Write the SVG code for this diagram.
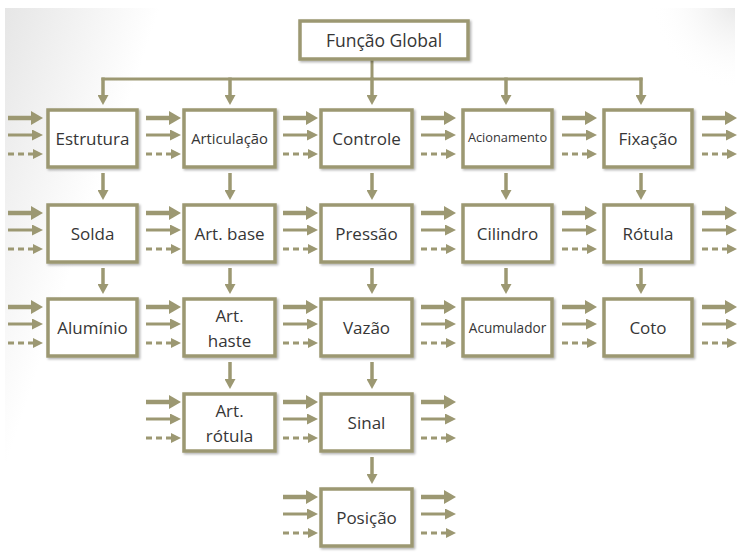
<svg xmlns="http://www.w3.org/2000/svg" xmlns:xlink="http://www.w3.org/1999/xlink" width="740" height="552" viewBox="0 0 740 552">
<style>
.box{fill:#ffffff;stroke:#9c9872;stroke-width:3.5;filter:url(#sh)}
.lbl{font-family:"Open Sans","Noto Sans","Liberation Sans",sans-serif;font-size:17px;fill:#363636;text-anchor:middle}
.c{fill:none;stroke:#9c9872}
.e{stroke-width:4.5;marker-end:url(#hE)}
.m{stroke-width:3;marker-end:url(#hM)}
.s{stroke-width:3;stroke-dasharray:6 4;marker-end:url(#hS)}
.v{stroke-width:3.5;marker-end:url(#hV)}
.t{stroke-width:3}
</style>
<defs>
<linearGradient id="bg" x1="0" y1="0" x2="1" y2="0.25">
<stop offset="0" stop-color="#e6e6e6"/>
<stop offset="0.2" stop-color="#ffffff"/>
<stop offset="1" stop-color="#ffffff"/>
</linearGradient>
<radialGradient id="tr" cx="740" cy="0" r="90" gradientUnits="userSpaceOnUse">
<stop offset="0" stop-color="#e4e4e4"/>
<stop offset="1" stop-color="#ffffff" stop-opacity="0"/>
</radialGradient>
<filter id="sh" x="-10%" y="-10%" width="125%" height="130%">
<feDropShadow dx="1.5" dy="1.5" stdDeviation="1.2" flood-color="#000" flood-opacity="0.3"/>
</filter>
<marker id="hE" markerUnits="userSpaceOnUse" markerWidth="12" markerHeight="14" refX="1" refY="7" orient="auto"><path d="M0,0 L12,7 L0,14 z" fill="#9c9872"/></marker>
<marker id="hM" markerUnits="userSpaceOnUse" markerWidth="11" markerHeight="11" refX="1" refY="5.5" orient="auto"><path d="M0,0 L11,5.5 L0,11 z" fill="#9c9872"/></marker>
<marker id="hS" markerUnits="userSpaceOnUse" markerWidth="10" markerHeight="10" refX="1" refY="5" orient="auto"><path d="M0,0 L10,5 L0,10 z" fill="#9c9872"/></marker>
<marker id="hV" markerUnits="userSpaceOnUse" markerWidth="10" markerHeight="11" refX="1" refY="5.5" orient="auto"><path d="M0,0 L10,5.5 L0,11 z" fill="#9c9872"/></marker>
<g id="trio" class="c">
<path class="e" d="M0,0 H24"/>
<path class="m" d="M0,17 H25"/>
<path class="s" d="M0,36 H26"/>
</g>
</defs>
<rect x="0" y="0" width="740" height="552" fill="#ffffff"/>
<rect x="5" y="8" width="730" height="540" fill="url(#bg)"/>
<rect x="5" y="8" width="730" height="540" fill="url(#tr)"/>

<g id="connectors">
<path class="c t" d="M372,60 V79 M101.5,79 H642.5"/>
<path class="c v" d="M103,77.5 V96"/>
<path class="c v" d="M230,77.5 V96"/>
<path class="c v" d="M372,77.5 V96"/>
<path class="c v" d="M506,77.5 V96"/>
<path class="c v" d="M641,77.5 V96"/>
<path class="c v" d="M103,173 V191"/>
<path class="c v" d="M103,268 V285"/>
<path class="c v" d="M230,173 V191"/>
<path class="c v" d="M230,268 V285"/>
<path class="c v" d="M230,362 V380"/>
<path class="c v" d="M372,173 V191"/>
<path class="c v" d="M372,268 V285"/>
<path class="c v" d="M372,362 V380"/>
<path class="c v" d="M372,457 V475"/>
<path class="c v" d="M506,173 V191"/>
<path class="c v" d="M506,268 V285"/>
<path class="c v" d="M641,173 V191"/>
<path class="c v" d="M641,268 V285"/>
<use href="#trio" x="8" y="118"/>
<use href="#trio" x="146" y="118"/>
<use href="#trio" x="283" y="118"/>
<use href="#trio" x="421" y="118"/>
<use href="#trio" x="562" y="118"/>
<use href="#trio" x="702" y="118"/>
<use href="#trio" x="8" y="213"/>
<use href="#trio" x="146" y="213"/>
<use href="#trio" x="283" y="213"/>
<use href="#trio" x="421" y="213"/>
<use href="#trio" x="562" y="213"/>
<use href="#trio" x="702" y="213"/>
<use href="#trio" x="8" y="307"/>
<use href="#trio" x="146" y="307"/>
<use href="#trio" x="283" y="307"/>
<use href="#trio" x="421" y="307"/>
<use href="#trio" x="562" y="307"/>
<use href="#trio" x="702" y="307"/>
<use href="#trio" x="146" y="402"/>
<use href="#trio" x="283" y="402"/>
<use href="#trio" x="421" y="402"/>
<use href="#trio" x="283" y="497"/>
<use href="#trio" x="421" y="497"/>
</g>

<g id="funcao-global"><rect class="box" x="300" y="21" width="168" height="38"/><text class="lbl" x="384" y="46.5" style="font-size:17.5px">Função Global</text></g>

<g id="estrutura"><rect class="box" x="48" y="110" width="89" height="57"/><text class="lbl" x="92.5" y="144.5">Estrutura</text></g>
<g id="articulacao"><rect class="box" x="184" y="110" width="91" height="57"/><text class="lbl" x="229.5" y="143.5" style="font-size:14.8px">Articulação</text></g>
<g id="controle"><rect class="box" x="321" y="110" width="91" height="57"/><text class="lbl" x="366.5" y="144.5">Controle</text></g>
<g id="acionamento"><rect class="box" x="463" y="110" width="89" height="57"/><text class="lbl" x="507.5" y="141.5" style="font-size:12.8px">Acionamento</text></g>
<g id="fixacao"><rect class="box" x="604" y="110" width="88" height="57"/><text class="lbl" x="648" y="144.5">Fixação</text></g>

<g id="solda"><rect class="box" x="48" y="205" width="89" height="57"/><text class="lbl" x="92.5" y="239.5">Solda</text></g>
<g id="art-base"><rect class="box" x="184" y="205" width="91" height="57"/><text class="lbl" x="229.5" y="239.5">Art. base</text></g>
<g id="pressao"><rect class="box" x="321" y="205" width="91" height="57"/><text class="lbl" x="366.5" y="239.5">Pressão</text></g>
<g id="cilindro"><rect class="box" x="463" y="205" width="89" height="57"/><text class="lbl" x="507.5" y="239.5">Cilindro</text></g>
<g id="rotula"><rect class="box" x="604" y="205" width="88" height="57"/><text class="lbl" x="648" y="239.5">Rótula</text></g>

<g id="aluminio"><rect class="box" x="48" y="299" width="89" height="57"/><text class="lbl" x="92.5" y="333.5">Alumínio</text></g>
<g id="art-haste"><rect class="box" x="184" y="299" width="91" height="57"/><text class="lbl" x="229.5" y="322">Art.</text><text class="lbl" x="229.5" y="347">haste</text></g>
<g id="vazao"><rect class="box" x="321" y="299" width="91" height="57"/><text class="lbl" x="366.5" y="333.5">Vazão</text></g>
<g id="acumulador"><rect class="box" x="463" y="299" width="89" height="57"/><text class="lbl" x="507.5" y="332.5" style="font-size:13.6px">Acumulador</text></g>
<g id="coto"><rect class="box" x="604" y="299" width="88" height="57"/><text class="lbl" x="648" y="333.5">Coto</text></g>

<g id="art-rotula"><rect class="box" x="184" y="394" width="91" height="57"/><text class="lbl" x="229.5" y="417">Art.</text><text class="lbl" x="229.5" y="442">rótula</text></g>
<g id="sinal"><rect class="box" x="321" y="394" width="91" height="57"/><text class="lbl" x="366.5" y="428.5">Sinal</text></g>

<g id="posicao"><rect class="box" x="321" y="489" width="91" height="57"/><text class="lbl" x="366.5" y="523.5">Posição</text></g>
</svg>
